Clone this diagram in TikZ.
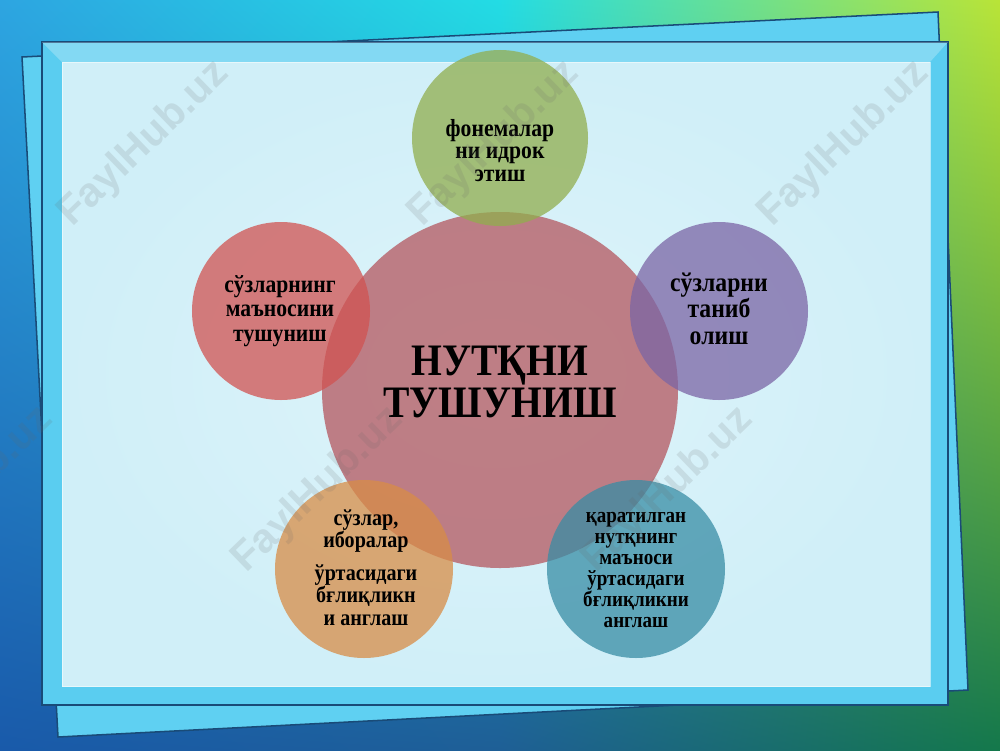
\documentclass[tikz,border=0pt]{standalone}
\usepackage{fontspec}
\usetikzlibrary{shadings}
\setmainfont{Liberation Serif}
\newfontfamily\cyr[FakeStretch=0.88]{Liberation Serif}
\newfontfamily\wmfont{Liberation Sans}
\definecolor{bgUL}{RGB}{45,165,225}
\definecolor{bgUM}{RGB}{35,220,228}
\definecolor{bgUR}{RGB}{185,228,55}
\definecolor{bgLL}{RGB}{25,90,170}
\definecolor{bgLM}{RGB}{30,95,150}
\definecolor{bgLR}{RGB}{20,120,75}
\definecolor{sheetedge}{RGB}{25,75,120}
\definecolor{sheetback}{RGB}{95,208,242}
\definecolor{framecol}{RGB}{90,205,240}
\definecolor{panelcol}{RGB}{208,239,248}
\definecolor{panelhi}{RGB}{222,244,250}
\definecolor{cCenter}{RGB}{180,87,95}
\definecolor{cLeft}{RGB}{209,83,81}
\definecolor{cGreen}{RGB}{145,174,78}
\definecolor{cOrange}{RGB}{216,141,71}
\definecolor{cTeal}{RGB}{56,141,165}
\definecolor{cPurple}{RGB}{123,101,165}
\begin{document}
\begin{tikzpicture}[x=0.03cm,y=-0.03cm,
  bub/.style={circle, draw=none, fill opacity=0.75, inner sep=0pt},
  lbl/.style={align=center, anchor=base, text=black, inner sep=0pt},
  sat/.style={lbl, font=\cyr\bfseries\fontsize{21}{18.8}\selectfont},
  wm/.style={font=\wmfont\bfseries\fontsize{35}{35}\selectfont, text=black!60, opacity=0.15, rotate=44, inner sep=0pt}]
\useasboundingbox (0,0) rectangle (1000,750);
\begin{scope}
\clip (0,0) rectangle (1000,750);
% background
\shade[upper left=bgUL, upper right=bgUM, lower left=bgLL, lower right=bgLM] (0,0) rectangle (500,750);
\shade[upper left=bgUM, upper right=bgUR, lower left=bgLM, lower right=bgLR] (500,0) rectangle (1000,750);
% back sheet
\filldraw[fill=sheetback, draw=sheetedge, line width=1.3pt] (22,57) -- (938,12) -- (968,690) -- (58,737) -- cycle;
% front sheet
\filldraw[fill=framecol, draw=sheetedge, line width=1.3pt] (42,42) rectangle (948,705);
\fill[white, opacity=0.25] (42,42) -- (948,42) -- (930,62) -- (62,62) -- cycle;
\shade[inner color=panelhi, outer color=panelcol] (62,62) rectangle (930,686);
\draw[white, opacity=0.5, line width=0.6pt] (62,62) rectangle (930,686);
% circles
\node[bub, fill=cCenter, minimum size=10.68cm] (center) at (500,390) {};
\node[bub, fill=cGreen, minimum size=5.28cm] (top) at (500,138) {};
\node[bub, fill=cPurple, minimum size=5.34cm] (right) at (719,311) {};
\node[bub, fill=cTeal, minimum size=5.34cm] (bright) at (636,569) {};
\node[bub, fill=cOrange, minimum size=5.34cm] (bleft) at (364,569) {};
\node[bub, fill=cLeft, minimum size=5.34cm] (left) at (281,311) {};
% texts (anchored at the baseline of the last line)
\node[lbl, font=\cyr\bfseries\fontsize{38.4}{35.8}\selectfont] (tc) at (500,417) {НУТҚНИ\\ТУШУНИШ};
\node[sat] (tt) at (500,181) {фонемалар\\ни идрок\\этиш};
\node[sat, font=\cyr\bfseries\fontsize{21}{20.5}\selectfont] (tl) at (280,341) {сўзларнинг\\маъносини\\тушуниш};
\node[sat, font=\cyr\bfseries\fontsize{23}{22.2}\selectfont] (tr) at (719,344) {сўзларни\\таниб\\олиш};
\node[sat, font=\cyr\bfseries\fontsize{19.5}{18.8}\selectfont] (tbl) at (366,625) {сўзлар,\\иборалар\\[9.4pt]ўртасидаги\\бғлиқликн\\и англаш};
\node[sat, font=\cyr\bfseries\fontsize{18.5}{17.8}\selectfont] (tbr) at (636,627) {қаратилган\\нутқнинг\\маъноси\\ўртасидаги\\бғлиқликни\\англаш};
% watermarks
\node[wm] (w1) at (144,144) {FaylHub.uz};
\node[wm] (w2) at (494,144) {FaylHub.uz};
\node[wm] (w3) at (844,144) {FaylHub.uz};
\node[wm] (w4) at (-32,490) {FaylHub.uz};
\node[wm] (w5) at (318,490) {FaylHub.uz};
\node[wm] (w6) at (668,490) {FaylHub.uz};
\end{scope}
\end{tikzpicture}
\end{document}
